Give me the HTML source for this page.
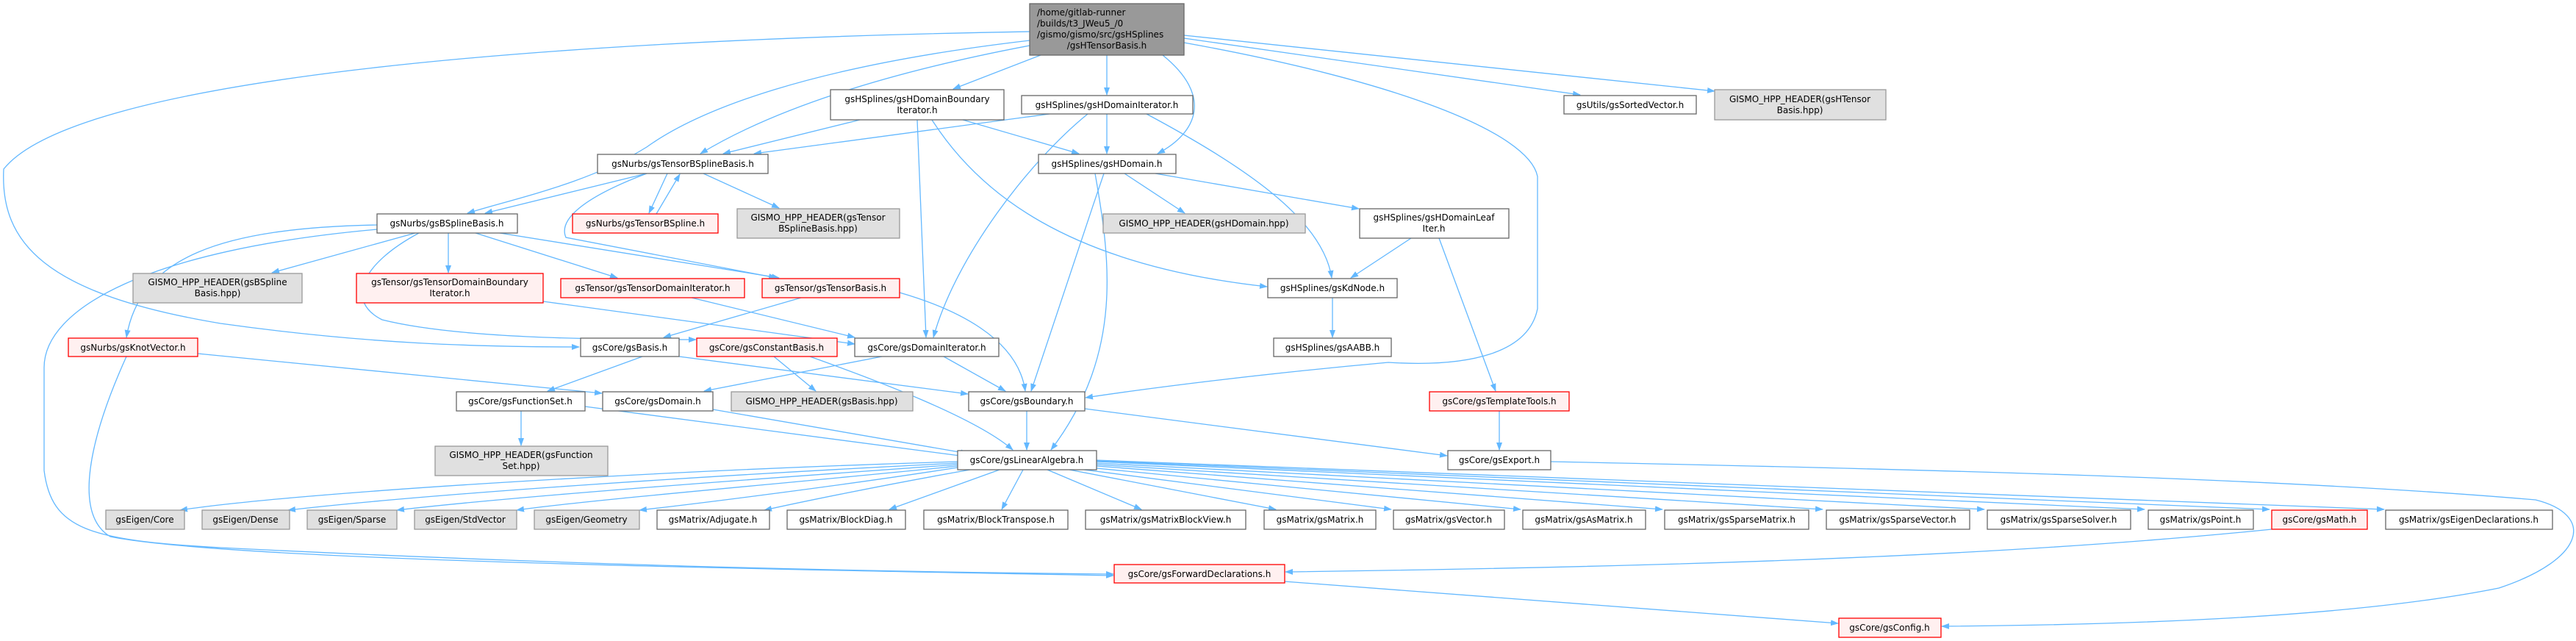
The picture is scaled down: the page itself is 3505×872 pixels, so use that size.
<!DOCTYPE html>
<html><head><meta charset="utf-8"><style>
html,body{margin:0;padding:0;background:#fff;}
svg{display:block;}
text{font-family:"DejaVu Sans","Liberation Sans",sans-serif;font-size:12px;fill:#000;text-anchor:middle;}
.n rect{fill:#fff;stroke:#666;stroke-width:1.3;}
.r rect{fill:#fff0f0;stroke:#f00;stroke-width:1.3;}
.g rect{fill:#e0e0e0;stroke:#999;stroke-width:1.3;}
.e path{fill:none;stroke:#63b8ff;stroke-width:1.3;marker-end:url(#a);}
</style></head><body>
<svg width="3505" height="872" viewBox="0 0 3505 872" xmlns="http://www.w3.org/2000/svg">
<defs><marker id="a" markerUnits="userSpaceOnUse" markerWidth="11" markerHeight="8" refX="10" refY="4" orient="auto"><path d="M0,0 L11,4 L0,8 z" fill="#63b8ff"/></marker></defs>
<g class="e">
<path d="M1401,43 C700,55 100,110 5,230 C0,330 60,400 300,440 C500,468 650,472 788,472"/>
<path d="M1401,55 C1100,90 950,150 880,200 C800,250 700,270 636,290"/>
<path d="M1401,62 C1200,100 1050,150 953,209"/>
<path d="M1416,75 L1297,121"/>
<path d="M1506,75 L1506,129"/>
<path d="M1582,75 C1650,130 1630,180 1575,209"/>
<path d="M1611,52 L2150,129"/>
<path d="M1611,48 L2333,124"/>
<path d="M1611,58 C1900,110 2080,180 2092,240 L2092,420 C2080,480 2000,500 1889,493 C1700,510 1550,530 1477,541"/>
<path d="M1170,163 L984,209"/>
<path d="M1310,163 L1468,209"/>
<path d="M1268,163 C1330,260 1450,360 1724,390"/>
<path d="M1248,163 L1260,459"/>
<path d="M1428,155 L1026,209"/>
<path d="M1506,155 L1506,209"/>
<path d="M1480,155 C1400,220 1300,350 1270,459"/>
<path d="M1560,155 C1700,230 1800,300 1812,378"/>
<path d="M1502,236 C1470,330 1440,420 1403,532"/>
<path d="M1490,236 C1510,350 1530,480 1430,612"/>
<path d="M1530,236 L1612,290"/>
<path d="M1572,236 L1849,284"/>
<path d="M1920,324 L1838,378"/>
<path d="M1958,324 L2035,532"/>
<path d="M1813,405 L1813,459"/>
<path d="M2040,559 L2040,612"/>
<path d="M880,236 L660,290"/>
<path d="M908,236 L883,290"/>
<path d="M893,291 L925,237"/>
<path d="M957,236 L1060,283"/>
<path d="M880,236 C790,270 760,300 770,323 L1056,378"/>
<path d="M565,317 L370,371"/>
<path d="M610,317 L610,371"/>
<path d="M647,317 L840,378"/>
<path d="M680,317 L1060,378"/>
<path d="M570,317 C490,360 470,410 520,435 C620,460 800,462 947,462"/>
<path d="M513,306 C300,310 190,350 172,459"/>
<path d="M513,312 C200,340 60,420 60,500 L60,640 C70,720 120,735 300,745 C800,770 1200,778 1515,781"/>
<path d="M269,481 L819,535"/>
<path d="M172,485 C120,600 100,700 150,730 C300,760 900,772 1515,783"/>
<path d="M1090,405 L903,459"/>
<path d="M941,405 L1163,459"/>
<path d="M739,410 L1163,468"/>
<path d="M1224,398 C1300,420 1385,460 1395,532"/>
<path d="M874,485 L745,532"/>
<path d="M1053,485 L1110,532"/>
<path d="M924,485 L1317,536"/>
<path d="M709,559 L709,606"/>
<path d="M1102,485 C1200,520 1330,570 1378,612"/>
<path d="M1200,485 L958,532"/>
<path d="M1284,485 L1368,532"/>
<path d="M796,553 L1314,621"/>
<path d="M970,557 L1317,617"/>
<path d="M1397,559 L1397,612"/>
<path d="M1476,556 L1969,620"/>
<path d="M1303,628 C900,640 400,670 245,694"/>
<path d="M1303,630 C1000,645 600,670 392,694"/>
<path d="M1303,632 C1050,650 700,675 540,694"/>
<path d="M1303,634 C1100,655 800,680 703,694"/>
<path d="M1303,636 C1150,660 950,685 870,694"/>
<path d="M1320,639 C1200,660 1080,685 1040,694"/>
<path d="M1360,639 L1210,693"/>
<path d="M1392,639 L1363,693"/>
<path d="M1425,639 L1553,693"/>
<path d="M1455,639 L1736,693"/>
<path d="M1475,639 L1893,693"/>
<path d="M1492,637 L2069,693"/>
<path d="M1492,634 L2262,693"/>
<path d="M1492,632 L2480,693"/>
<path d="M1492,630 L2700,693"/>
<path d="M1492,628 L2918,693"/>
<path d="M1492,627 L3088,693"/>
<path d="M1492,626 L3244,693"/>
<path d="M2110,628 C2600,638 3100,650 3450,680 C3530,700 3520,760 3400,800 C3200,840 2900,850 2642,852"/>
<path d="M3091,720 C2700,760 2200,772 1749,778"/>
<path d="M1748,791 L2501,848"/>
</g>
<g class="n"><rect x="1401" y="5" width="210" height="70" style="fill:#999;stroke:#666"/>
<text x="1411" y="21" style="text-anchor:start">/home/gitlab-runner</text>
<text x="1411" y="36" style="text-anchor:start">/builds/t3_JWeu5_/0</text>
<text x="1411" y="51" style="text-anchor:start">/gismo/gismo/src/gsHSplines</text>
<text x="1506" y="66">/gsHTensorBasis.h</text></g>
<g class="n"><rect x="1130" y="122" width="236" height="41"/><text x="1248" y="139">gsHSplines/gsHDomainBoundary</text><text x="1248" y="154">Iterator.h</text></g>
<g class="n"><rect x="1390" y="130" width="233" height="25"/><text x="1506" y="147">gsHSplines/gsHDomainIterator.h</text></g>
<g class="n"><rect x="2128" y="130" width="180" height="25"/><text x="2218" y="147">gsUtils/gsSortedVector.h</text></g>
<g class="g"><rect x="2333" y="122" width="233" height="41"/><text x="2449" y="139">GISMO_HPP_HEADER(gsHTensor</text><text x="2449" y="154">Basis.hpp)</text></g>
<g class="n"><rect x="813" y="210" width="232" height="26"/><text x="929" y="227">gsNurbs/gsTensorBSplineBasis.h</text></g>
<g class="n"><rect x="1413" y="210" width="187" height="26"/><text x="1506" y="227">gsHSplines/gsHDomain.h</text></g>
<g class="n"><rect x="513" y="291" width="191" height="26"/><text x="608" y="308">gsNurbs/gsBSplineBasis.h</text></g>
<g class="r"><rect x="779" y="291" width="198" height="26"/><text x="878" y="308">gsNurbs/gsTensorBSpline.h</text></g>
<g class="g"><rect x="1003" y="284" width="221" height="40"/><text x="1113" y="300">GISMO_HPP_HEADER(gsTensor</text><text x="1113" y="315">BSplineBasis.hpp)</text></g>
<g class="g"><rect x="1501" y="291" width="275" height="26"/><text x="1638" y="308">GISMO_HPP_HEADER(gsHDomain.hpp)</text></g>
<g class="n"><rect x="1850" y="284" width="203" height="40"/><text x="1951" y="300">gsHSplines/gsHDomainLeaf</text><text x="1951" y="315">Iter.h</text></g>
<g class="g"><rect x="181" y="372" width="230" height="40"/><text x="296" y="388">GISMO_HPP_HEADER(gsBSpline</text><text x="296" y="403">Basis.hpp)</text></g>
<g class="r"><rect x="485" y="372" width="254" height="40"/><text x="612" y="388">gsTensor/gsTensorDomainBoundary</text><text x="612" y="403">Iterator.h</text></g>
<g class="r"><rect x="763" y="379" width="250" height="26"/><text x="888" y="396">gsTensor/gsTensorDomainIterator.h</text></g>
<g class="r"><rect x="1037" y="379" width="187" height="26"/><text x="1130" y="396">gsTensor/gsTensorBasis.h</text></g>
<g class="n"><rect x="1725" y="379" width="176" height="26"/><text x="1813" y="396">gsHSplines/gsKdNode.h</text></g>
<g class="r"><rect x="93" y="460" width="176" height="25"/><text x="181" y="477">gsNurbs/gsKnotVector.h</text></g>
<g class="n"><rect x="790" y="460" width="134" height="25"/><text x="857" y="477">gsCore/gsBasis.h</text></g>
<g class="r"><rect x="948" y="460" width="191" height="25"/><text x="1043" y="477">gsCore/gsConstantBasis.h</text></g>
<g class="n"><rect x="1163" y="460" width="196" height="25"/><text x="1261" y="477">gsCore/gsDomainIterator.h</text></g>
<g class="n"><rect x="1733" y="460" width="160" height="25"/><text x="1813" y="477">gsHSplines/gsAABB.h</text></g>
<g class="n"><rect x="621" y="533" width="175" height="26"/><text x="708" y="550">gsCore/gsFunctionSet.h</text></g>
<g class="n"><rect x="820" y="533" width="150" height="26"/><text x="895" y="550">gsCore/gsDomain.h</text></g>
<g class="g"><rect x="995" y="533" width="247" height="26"/><text x="1118" y="550">GISMO_HPP_HEADER(gsBasis.hpp)</text></g>
<g class="n"><rect x="1318" y="533" width="158" height="26"/><text x="1397" y="550">gsCore/gsBoundary.h</text></g>
<g class="r"><rect x="1945" y="533" width="190" height="26"/><text x="2040" y="550">gsCore/gsTemplateTools.h</text></g>
<g class="g"><rect x="592" y="607" width="235" height="40"/><text x="709" y="623">GISMO_HPP_HEADER(gsFunction</text><text x="709" y="638">Set.hpp)</text></g>
<g class="n"><rect x="1303" y="613" width="189" height="26"/><text x="1397" y="630">gsCore/gsLinearAlgebra.h</text></g>
<g class="n"><rect x="1970" y="613" width="140" height="26"/><text x="2040" y="630">gsCore/gsExport.h</text></g>
<g class="g"><rect x="144" y="694" width="107" height="26"/><text x="197" y="711">gsEigen/Core</text></g>
<g class="g"><rect x="275" y="694" width="119" height="26"/><text x="334" y="711">gsEigen/Dense</text></g>
<g class="g"><rect x="418" y="694" width="122" height="26"/><text x="479" y="711">gsEigen/Sparse</text></g>
<g class="g"><rect x="564" y="694" width="139" height="26"/><text x="633" y="711">gsEigen/StdVector</text></g>
<g class="g"><rect x="727" y="694" width="143" height="26"/><text x="798" y="711">gsEigen/Geometry</text></g>
<g class="n"><rect x="894" y="694" width="153" height="26"/><text x="970" y="711">gsMatrix/Adjugate.h</text></g>
<g class="n"><rect x="1071" y="694" width="161" height="26"/><text x="1151" y="711">gsMatrix/BlockDiag.h</text></g>
<g class="n"><rect x="1257" y="694" width="196" height="26"/><text x="1355" y="711">gsMatrix/BlockTranspose.h</text></g>
<g class="n"><rect x="1477" y="694" width="218" height="26"/><text x="1586" y="711">gsMatrix/gsMatrixBlockView.h</text></g>
<g class="n"><rect x="1720" y="694" width="152" height="26"/><text x="1796" y="711">gsMatrix/gsMatrix.h</text></g>
<g class="n"><rect x="1896" y="694" width="151" height="26"/><text x="1971" y="711">gsMatrix/gsVector.h</text></g>
<g class="n"><rect x="2072" y="694" width="167" height="26"/><text x="2155" y="711">gsMatrix/gsAsMatrix.h</text></g>
<g class="n"><rect x="2265" y="694" width="196" height="26"/><text x="2363" y="711">gsMatrix/gsSparseMatrix.h</text></g>
<g class="n"><rect x="2485" y="694" width="195" height="26"/><text x="2582" y="711">gsMatrix/gsSparseVector.h</text></g>
<g class="n"><rect x="2704" y="694" width="195" height="26"/><text x="2801" y="711">gsMatrix/gsSparseSolver.h</text></g>
<g class="n"><rect x="2923" y="694" width="143" height="26"/><text x="2994" y="711">gsMatrix/gsPoint.h</text></g>
<g class="r"><rect x="3091" y="694" width="130" height="26"/><text x="3156" y="711">gsCore/gsMath.h</text></g>
<g class="n"><rect x="3246" y="694" width="227" height="26"/><text x="3359" y="711">gsMatrix/gsEigenDeclarations.h</text></g>
<g class="r"><rect x="1516" y="768" width="232" height="25"/><text x="1632" y="785">gsCore/gsForwardDeclarations.h</text></g>
<g class="r"><rect x="2502" y="841" width="139" height="26"/><text x="2571" y="858">gsCore/gsConfig.h</text></g>
</svg>
</body></html>
